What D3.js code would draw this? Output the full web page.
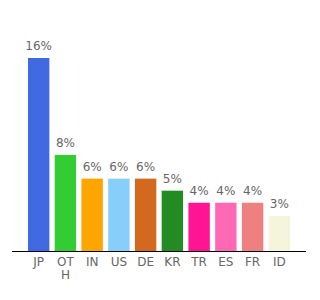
<!DOCTYPE html>
<html><head><meta charset="utf-8">
<script src="https://cdn.jsdelivr.net/npm/d3@7"></script>
<style>body{margin:0;background:#fff}</style>
</head><body>
<svg id="c" width="320" height="300"></svg>
<script>
const categories = ["JP","OTH","IN","US","DE","KR","TR","ES","FR","ID"];
const values = [16, 7.96, 6, 6, 6, 5, 4, 4, 4, 2.9];
const labels = ["16%","8%","6%","6%","6%","5%","4%","4%","4%","3%"];
const colors = ["#4169E1","#32CD32","#FFA500","#87CEFA","#D2691E","#228B22","#FF1493","#FF69B4","#F08080","#F5F5DC"];

const svg = d3.select("#c");
const baseY = 251;
const x = d3.scaleBand().domain(categories).range([25.3, 292.7]).paddingInner(0.2).paddingOuter(0.1);
const y = d3.scaleLinear().domain([0, 16]).range([baseY, 58]);
const font = "DejaVu Sans, Verdana, sans-serif";

svg.selectAll("rect.bar").data(categories).join("rect")
  .attr("class","bar")
  .attr("x", d => x(d))
  .attr("width", x.bandwidth())
  .attr("y", (d,i) => y(values[i]))
  .attr("height", (d,i) => baseY - y(values[i]))
  .attr("fill", (d,i) => colors[i]);

svg.selectAll("text.val").data(categories).join("text")
  .attr("class","val")
  .attr("x", d => x(d) + x.bandwidth()/2)
  .attr("y", (d,i) => y(values[i]) - 8)
  .attr("text-anchor","middle")
  .attr("font-family", font)
  .attr("font-size", 12)
  .attr("fill","#666")
  .text((d,i) => labels[i]);

const axis = d3.axisBottom(x).tickSize(0).tickPadding(6).tickSizeOuter(0);
const g = svg.append("g").attr("transform", `translate(0,${baseY})`).call(axis);
g.select(".domain").remove();
g.append("line").attr("x1", 12).attr("x2", 306).attr("y1", 0.5).attr("y2", 0.5).attr("stroke", "#000").attr("stroke-width", 1);
g.selectAll(".tick text").attr("font-family", font).attr("font-size", 12).attr("fill", "#666");

// wrap tick labels by characters when wider than the band
g.selectAll(".tick text").each(function(d){
  const t = d3.select(this);
  const full = t.text();
  if (this.getComputedTextLength() <= x.bandwidth()) return;
  const yAttr = t.attr("y"), dy = t.attr("dy");
  t.text(null);
  let line = "", lines = [];
  const tmp = t.append("tspan");
  for (const ch of full) {
    tmp.text(line + ch);
    if (tmp.node().getComputedTextLength() > x.bandwidth() && line) { lines.push(line); line = ch; }
    else line = line + ch;
  }
  lines.push(line);
  tmp.remove();
  lines.forEach((l, k) => {
    t.append("tspan").attr("x", 0).attr("y", yAttr).attr("dy", (k === 0 ? dy : null) || null)
      .attr("dy", k === 0 ? dy : (parseFloat(dy) + k*1.15) + "em").text(l);
  });
});
</script>
</body></html>
